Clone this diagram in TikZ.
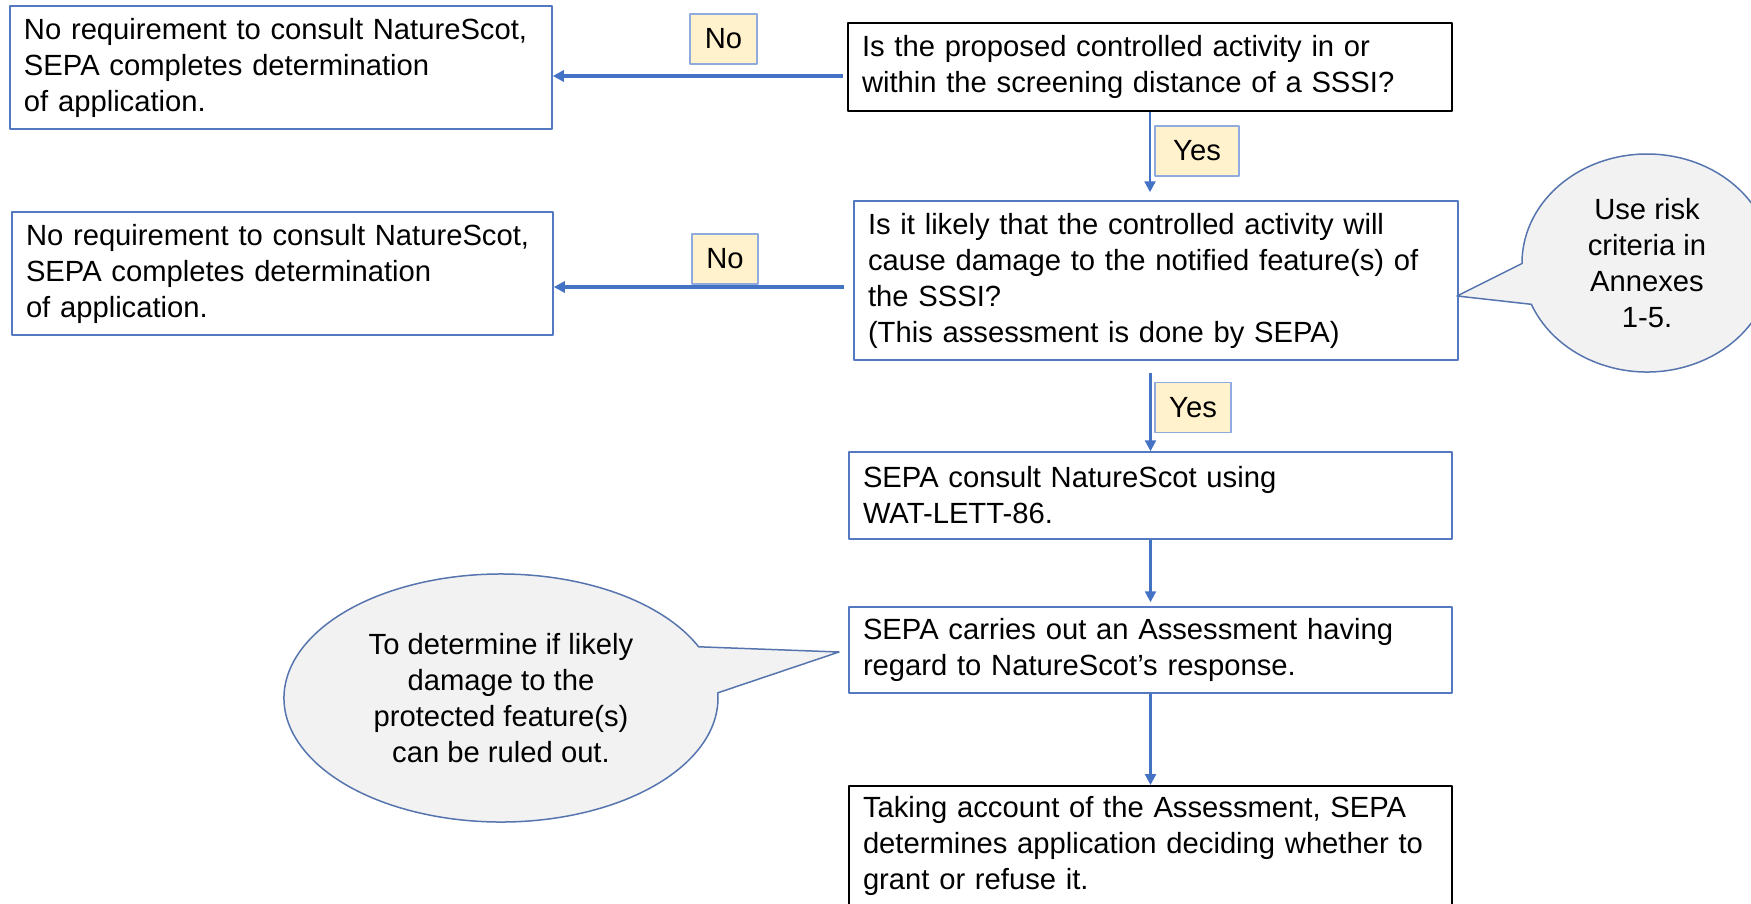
\documentclass[tikz,border=0pt]{standalone}
\usepackage{fontspec}
\setmainfont{Liberation Sans}
\usetikzlibrary{arrows.meta,shapes.callouts}
\hyphenpenalty=10000
\definecolor{flowblue}{HTML}{4472C4}
\definecolor{boxline}{HTML}{5479C0}
\definecolor{tagfill}{HTML}{FFF2CC}
\definecolor{tagline}{HTML}{8FAADC}
\definecolor{callfill}{HTML}{F2F2F2}
\definecolor{callline}{HTML}{5675AE}
\tikzset{
  box/.style={draw=boxline, line width=0.75pt, align=left, inner xsep=7pt, inner ysep=0pt},
  qbox/.style={box, draw=black, line width=1pt},
  tag/.style={draw=tagline, fill=tagfill, line width=0.75pt, inner sep=0pt, minimum height=25pt},
  balloon/.style={ellipse callout, draw=callline, fill=callfill, line width=0.75pt, align=center, inner sep=0pt, callout pointer arc=22},
  flow/.style={->, draw=flowblue, line width=1.2pt}
}
\begin{document}
\begin{tikzpicture}[x=0.5pt, y=-0.5pt, >={Triangle[length=5.5pt,width=5.5pt]}, font=\fontsize{14.6}{18}\selectfont, line join=round]
\useasboundingbox (0,0) rectangle (1751,904);
%\draw[gray!40] (0,0) grid[step=50] (1751,904);
% main column
\node[qbox, text width=288pt, minimum height=44pt] (screen) at (1150,67)
  {Is the proposed controlled activity in or\\within the screening distance of a SSSI?};
\node[box, text width=288pt, minimum height=79.5pt] (likely) at (1156,280.5)
  {Is it likely that the controlled activity will\\cause damage to the notified feature(s) of\\the SSSI?\\(This assessment is done by SEPA)};
\node[box, text width=287.5pt, minimum height=43.5pt] (consult) at (1150.5,495.5)
  {SEPA consult NatureScot using\\WAT-LETT-86.};
\node[box, text width=287.5pt, minimum height=43pt] (assess) at (1150.5,650)
  {SEPA carries out an Assessment having\\regard to NatureScot’s response.};
\node[qbox, text width=287.5pt, minimum height=60pt] (decide) at (1150.5,846)
  {Taking account of the Assessment, SEPA\\determines application deciding whether to\\grant or refuse it.};
% no branches
\node[box, text width=257pt, minimum height=61.5pt] (nosite) at (281,67.5)
  {No requirement to consult NatureScot,\\SEPA completes determination\\of application.};
\node[box, text width=256.5pt, minimum height=61.5pt] (nodamage) at (282.5,273.5)
  {No requirement to consult NatureScot,\\SEPA completes determination\\of application.};
% callouts
\coordinate (tipA) at (1457,296);
\coordinate (tipB) at (839,652);
\node[balloon, minimum width=125pt, minimum height=109pt, callout absolute pointer=(tipA)] (risk) at (1647,263)
  {Use risk\\criteria in\\Annexes\\1-5.};
\node[balloon, minimum width=217pt, minimum height=124pt, callout absolute pointer=(tipB)] (ruled) at (501,698)
  {To determine if likely\\damage to the\\protected feature(s)\\can be ruled out.};
% connectors
\coordinate (outA) at ([yshift=-4.5pt]screen.west);
\coordinate (outB) at ([yshift=-3.25pt]likely.west);
\draw[flow, line width=1.6pt, shorten <=2pt] (outA) -- (outA -| nosite.east);
\draw[flow, line width=1.6pt, shorten <=4.5pt] (outB) -- (outB -| nodamage.east);
\draw[flow, shorten >=4pt] (screen.south) -- (screen.south |- likely.north);
\draw[flow, shorten <=6pt] (consult.north |- likely.south) -- (consult.north);
\draw[flow, shorten >=2pt] (consult.south) -- (assess.north);
\draw[flow] (assess.south) -- (decide.north);
% labels
\node[tag, minimum width=33.5pt] (no1) at (723.5,39) {No};
\node[tag, minimum width=33pt] (no2) at (725,259) {No};
\node[tag, minimum width=42pt] (yes1) at (1197,151) {Yes};
\node[tag, minimum width=38pt] (yes2) at (1193,407.5) {Yes};
\end{tikzpicture}
\end{document}
